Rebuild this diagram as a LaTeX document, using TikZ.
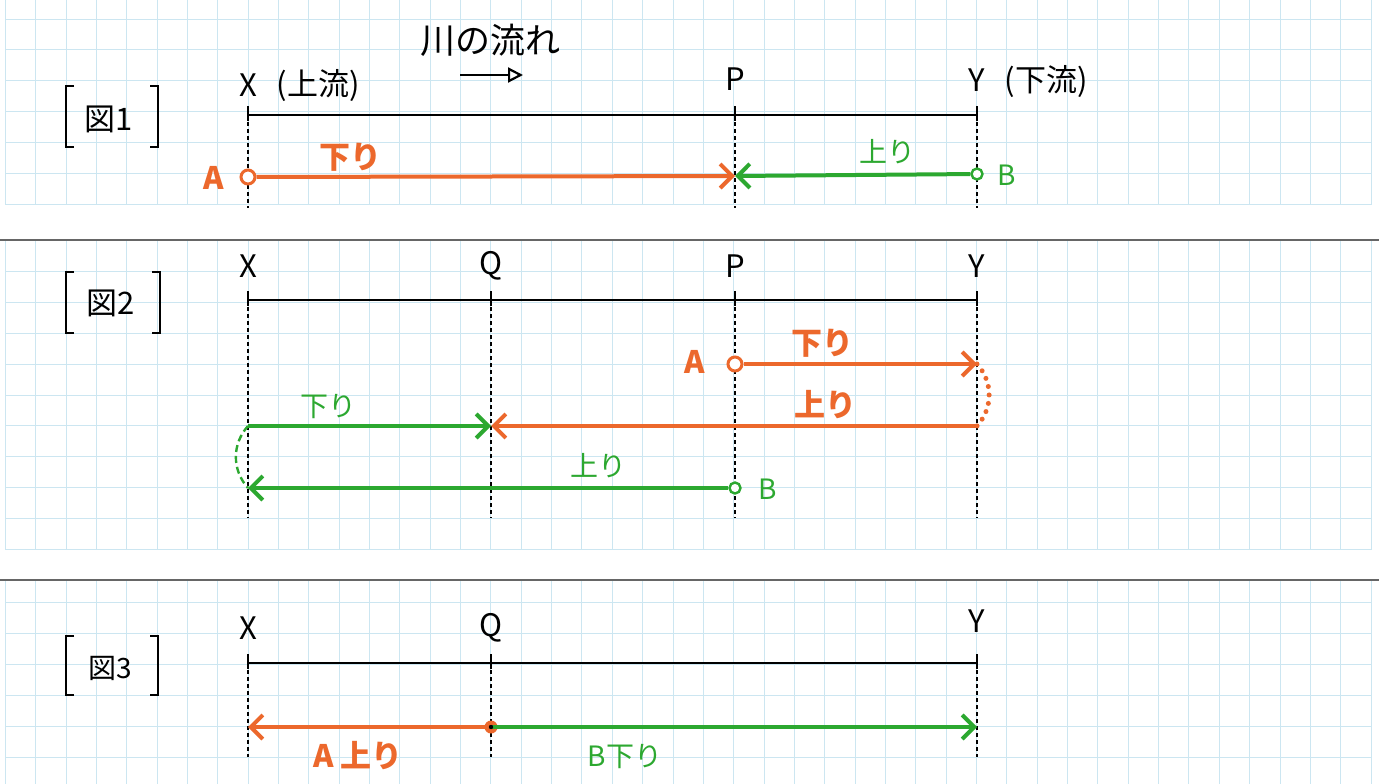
\documentclass[tikz,border=0pt]{standalone}
\usepackage{fontspec}
\setmainfont{Noto Sans CJK JP}
\usetikzlibrary{arrows.meta}
\definecolor{orng}{RGB}{236,104,44}
\definecolor{grn}{RGB}{44,168,48}
\definecolor{gridc}{RGB}{204,230,241}
\begin{document}
\begin{tikzpicture}[x=1pt,y=-1pt,
  lbl/.style={font=\fontsize{31}{33}\selectfont, inner sep=0},
  olbl/.style={text=orng, font=\fontsize{31}{33}\selectfont\bfseries, inner sep=0},
  glbl/.style={text=grn, font=\fontsize{28}{30}\selectfont, inner sep=0},
  axisline/.style={line width=2.3pt, black},
  tickmark/.style={line width=2.3pt, black},
  guide/.style={line width=2pt, black, dash pattern=on 3.5pt off 3.5pt},
  brk/.style={line width=2pt, black},
  gridline/.style={gridc, line width=0.8pt},
  sep/.style={black!60, line width=1.6pt},
  oarr/.style={orng, line width=4pt, -{Straight Barb[length=12pt,width=24pt]}},
  garr/.style={grn, line width=4pt, -{Straight Barb[length=12pt,width=24pt]}},
  ocirc/.style={circle, draw=orng, line width=3pt, fill=white, minimum size=14pt, inner sep=0},
  gcirc/.style={circle, draw=grn, line width=2.4pt, fill=white, minimum size=11pt, inner sep=0},
  odot/.style={circle, fill=orng, minimum size=13pt, inner sep=0},
]
\useasboundingbox (0,0) rectangle (1379,784);
\fill[white] (0,0) rectangle (1379,784);

% ---------- grid ----------
\foreach \k in {0,...,45}{
  \draw[gridline] ({5.2+30.35*\k},0) -- ({5.2+30.35*\k},205);
  \draw[gridline] ({5.2+30.35*\k},241) -- ({5.2+30.35*\k},550);
  \draw[gridline] ({5.2+30.35*\k},581) -- ({5.2+30.35*\k},784);
}
\foreach \y in {19,49.8,80.6,111.4,142.2,173,204}{
  \draw[gridline] (5.2,\y) -- (1371,\y);}
\foreach \y in {271.7,302.5,333.3,364.1,394.9,425.7,456.5,487.3,518.1,549}{
  \draw[gridline] (5.2,\y) -- (1371,\y);}
\foreach \y in {602,633,664,695,726,757}{
  \draw[gridline] (5.2,\y) -- (1371,\y);}
\draw[sep] (0,240) -- (1379,240);
\draw[sep] (0,580) -- (1379,580);

% ================= Panel 1 =================
\draw[brk] (74,86) -- (66,86) -- (66,147) -- (74,147);
\draw[brk] (150,86) -- (158,86) -- (158,147) -- (150,147);
\node[lbl] (fig1) at (109,119) {図1};

\node[lbl] (tX1) at (248,85) {X};
\node[lbl] (tUp1) at (318,86) {(上流)};
\node[lbl] (tP1) at (735,79) {P};
\node[lbl] (tY1) at (977,80) {Y};
\node[lbl] (tDn1) at (1046,82) {(下流)};
\node[font=\fontsize{35}{37}\selectfont, inner sep=0] (flow) at (490,40) {川の流れ};
\coordinate (F1) at (460,75);
\coordinate (F2) at (523,75);
\draw[line width=2.2pt, -{Triangle[open,length=15pt,width=15pt,line width=2.2pt]}] (F1) -- (F2);

\coordinate (X1) at (248,115);
\coordinate (P1) at (735,115);
\coordinate (Y1) at (977,115);
\coordinate (X1b) at (248,208);
\coordinate (P1b) at (735,208);
\coordinate (Y1b) at (977,208);
\draw[axisline] (X1) -- (Y1);
\foreach \c in {X1,P1,Y1}{\draw[tickmark] ([yshift=9pt]\c) -- ([yshift=-6pt]\c);}
\draw[guide] (X1) -- (X1b);
\draw[guide] (P1) -- (P1b);
\draw[guide] (Y1) -- (Y1b);

\coordinate (P1m) at (735,176);
\node[ocirc] (A1) at (248,177) {};
\node[gcirc] (B1) at (977,174) {};
\draw[oarr] (A1) -- (P1m);
\draw[garr] (B1) -- (P1m);
\node[olbl] (tA1) at (214,178) {A};
\node[olbl] (tDown1) at (350,157) {下り};
\node[glbl] (tUpr1) at (887,152) {上り};
\node[glbl] (tB1) at (1007,175) {B};

% ================= Panel 2 =================
\draw[brk] (74,272) -- (66,272) -- (66,333) -- (74,333);
\draw[brk] (152,272) -- (160,272) -- (160,333) -- (152,333);
\node[lbl] (fig2) at (111,303) {図2};

\node[lbl] (tX2) at (248,266) {X};
\node[lbl] (tQ2) at (491,266) {Q};
\node[lbl] (tP2) at (735,266) {P};
\node[lbl] (tY2) at (977,266) {Y};

\coordinate (X2) at (248,300);
\coordinate (Q2) at (491,300);
\coordinate (P2) at (735,300);
\coordinate (Y2) at (977,300);
\coordinate (X2b) at (248,518);
\coordinate (Q2b) at (491,518);
\coordinate (P2b) at (735,518);
\coordinate (Y2b) at (977,518);
\draw[axisline] (X2) -- (Y2);
\foreach \c in {X2,Q2,P2,Y2}{\draw[tickmark] ([yshift=9pt]\c) -- ([yshift=-6pt]\c);}
\draw[guide] (X2) -- (X2b);
\draw[guide] (Q2) -- (Q2b);
\draw[guide] (P2) -- (P2b);
\draw[guide] (Y2) -- (Y2b);

\coordinate (Y2m) at (977,364);
\coordinate (Y2n) at (977,426);
\coordinate (Q2m) at (491,426);
\coordinate (X2m) at (248,426);
\coordinate (X2n) at (248,488);
\node[ocirc] (A2) at (735,364) {};
\node[gcirc] (B2) at (735,488) {};
\draw[oarr] (A2) -- (Y2m);
\draw[orng, line width=5pt, line cap=round, dash pattern=on 0pt off 8.5pt] (Y2m) to[bend left=42] (Y2n);
\draw[oarr] (Y2n) -- (Q2m);
\draw[garr] (X2m) -- (Q2m);
\draw[grn, line width=2.4pt, dash pattern=on 7pt off 4pt] (X2m) to[bend right=42] (X2n);
\draw[garr] (B2) -- (X2n);

\node[olbl] (tA2) at (695,362) {A};
\node[olbl] (tDown2) at (822,343) {下り};
\node[olbl] (tUpr2) at (825,405) {上り};
\node[glbl] (tDown2g) at (328,407) {下り};
\node[glbl] (tUpr2g) at (598,466) {上り};
\node[glbl] (tB2) at (768,489) {B};

% ================= Panel 3 =================
\draw[brk] (74,636) -- (66,636) -- (66,695) -- (74,695);
\draw[brk] (150,636) -- (158,636) -- (158,695) -- (150,695);
\node[font=\fontsize{28}{30}\selectfont, inner sep=0] (fig3) at (110,668) {図3};

\node[lbl] (tX3) at (248,628) {X};
\node[lbl] (tQ3) at (491,628) {Q};
\node[lbl] (tY3) at (977,621) {Y};

\coordinate (X3) at (248,663);
\coordinate (Q3) at (491,663);
\coordinate (Y3) at (977,663);
\coordinate (X3b) at (248,757);
\coordinate (Q3b) at (491,757);
\coordinate (Y3b) at (977,757);
\draw[axisline] (X3) -- (Y3);
\foreach \c in {X3,Q3,Y3}{\draw[tickmark] ([yshift=9pt]\c) -- ([yshift=-6pt]\c);}
\draw[guide] (X3) -- (X3b);
\draw[guide] (Q3) -- (Q3b);
\draw[guide] (Y3) -- (Y3b);

\coordinate (X3m) at (248,727);
\coordinate (Y3m) at (977,727);
\node[odot] (Q3m) at (491,727) {};
\draw[oarr] (Q3m.center) -- (X3m);
\draw[garr] (Q3m.center) -- (Y3m);
\fill[black] (Q3m.center) circle (2.2pt);

\node[olbl] (tA3) at (358,756) {A 上り};
\node[glbl] (tB3) at (625,757) {B下り};
\end{tikzpicture}
\end{document}
